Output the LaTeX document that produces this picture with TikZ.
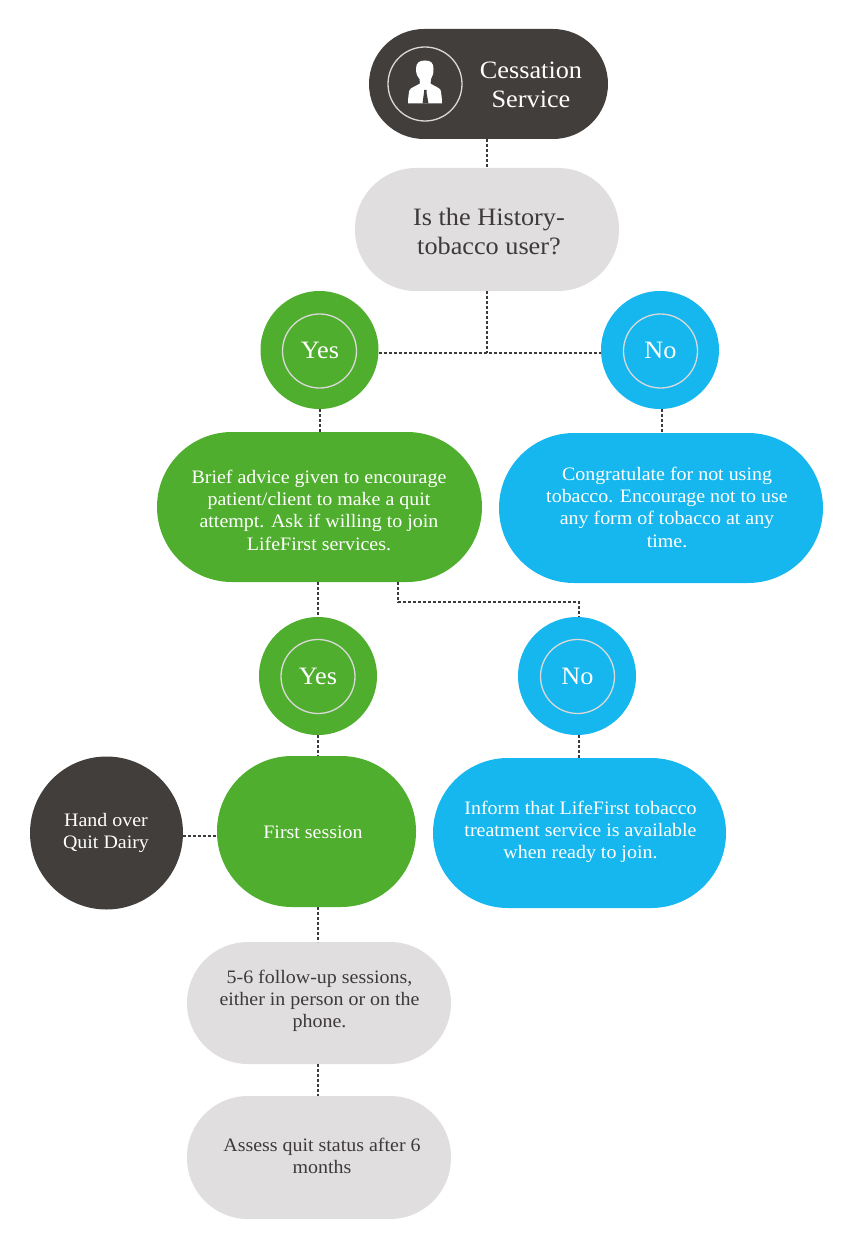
\documentclass[tikz,border=0pt]{standalone}
\usepackage{fontspec}
\setmainfont[FakeStretch=1.05]{Liberation Serif}
\definecolor{darkb}{HTML}{423E3B}
\definecolor{lgray}{HTML}{E0DEDF}
\definecolor{grn}{HTML}{50AE2E}
\definecolor{blu}{HTML}{16B7EE}
\definecolor{txt}{HTML}{3E3A3A}
\tikzset{
 x=1pt,y=-1pt,
 pill/.style={draw=none,rounded corners=#1,inner sep=0pt,outer sep=0pt},
 pillg/.style={pill=61pt,fill=lgray},
 disc/.style={circle,draw=none,inner sep=0pt,outer sep=0pt,minimum size=118pt},
 ring/.style={circle,draw=white!85!black,line width=1.3pt,inner sep=0pt,minimum size=74pt},
 conn/.style={draw=txt,line width=1.6pt,dash pattern=on 3pt off 2pt},
 labbig/.style={align=center,inner sep=0pt,font=\fontsize{25}{29}\selectfont},
 labsmall/.style={align=center,inner sep=0pt,font=\fontsize{19}{22.3}\selectfont},
}
\begin{document}
\begin{tikzpicture}
\useasboundingbox (0,0) rectangle (857,1241);
% shapes
\node[pill=55pt,fill=darkb,minimum width=239pt,minimum height=110pt] (top) at (488.5,84) {};
\node[pillg,minimum width=264pt,minimum height=123pt] (hist) at (487,229.5) {};
\node[disc,fill=grn] (yesa) at (319.5,350) {};
\node[disc,fill=blu] (noa) at (660,350) {};
\node[pill=75pt,fill=grn,minimum width=325pt,minimum height=150pt] (adv) at (319.5,507) {};
\node[pill=75pt,fill=blu,minimum width=324pt,minimum height=150pt] (cong) at (661,508) {};
\node[disc,fill=grn] (yesb) at (318,676) {};
\node[disc,fill=blu] (nob) at (577,676) {};
\node[pill=75pt,fill=grn,minimum width=199pt,minimum height=151pt] (first) at (316.5,831.5) {};
\node[pill=75pt,fill=blu,minimum width=293pt,minimum height=150pt] (inf) at (579.5,833) {};
\node[circle,fill=darkb,draw=none,inner sep=0pt,outer sep=0pt,minimum size=153pt] (hand) at (106.5,833) {};
\node[pillg,minimum width=264pt,minimum height=122pt] (fol) at (319,1003) {};
\node[pillg,minimum width=264pt,minimum height=123pt] (ass) at (319,1157.5) {};
% rings
\node[ring] (ringtop) at (425,84) {};
\node[ring] (ringya) at (319.5,351) {};
\node[ring] (ringna) at (660.5,351) {};
\node[ring] (ringyb) at (318,676.5) {};
\node[ring] (ringnb) at (577.5,676.5) {};
% icon
\fill[white] (425,60.5) .. controls (419,60.5) and (416,63) .. (416,69) .. controls (416,73) and (417,76) .. (419.5,79) -- (420,83.5) .. controls (416,86) and (411,87.5) .. (409.5,90) .. controls (408.5,94) and (408,99) .. (408,103.5) -- (442,103.5) .. controls (442,99) and (441.5,94) .. (440.5,90) .. controls (439,87.5) and (434,86) .. (430.5,83.5) -- (431,79) .. controls (433,76) and (433.5,73) .. (433.5,69) .. controls (433.5,63) and (431,60.5) .. (425,60.5) -- cycle;
\fill[darkb] (424,90) -- (426.5,90) -- (426.5,92.5) -- (428.5,103.5) -- (422.5,103.5) -- (424,92.5) -- cycle;
% connectors
\coordinate (ja) at (487,353);
\coordinate (jb) at (398,602);
\coordinate (jc) at (579,602);
\coordinate (jd) at (398,582);
\coordinate (je) at (217,836);
\coordinate (jf) at (662,433);
\coordinate (jg) at (320,432);
\draw[conn] (hist.north |- top.south) -- (hist.north);
\draw[conn] (hist.south) -- (ja);
\draw[conn] (yesa.east |- ja) -- (noa.west |- ja);
\draw[conn] (jg |- yesa.south) -- (jg);
\draw[conn] (jf |- noa.south) -- (jf);
\draw[conn] (yesb.north |- adv.south) -- (yesb.north);
\draw[conn] (jd) -- (jb) -- (jc) -- (jc |- nob.north);
\draw[conn] (yesb.south) -- (yesb.south |- first.north);
\draw[conn] (jc |- nob.south) -- (jc |- inf.north);
\draw[conn] (hand.east |- je) -- (je);
\draw[conn] (yesb.south |- first.south) -- (yesb.south |- fol.north);
\draw[conn] (yesb.south |- fol.south) -- (yesb.south |- ass.north);
% text
\node[labbig,text=white] (tcess) at (531,85) {Cessation\\Service};
\node[labbig,text=txt] (this) at (489,232) {Is the History-\\tobacco user?};
\node[labbig,text=white] (tya) at (320,350) {Yes};
\node[labbig,text=white] (tna) at (660.5,350) {No};
\node[labbig,text=white] (tyb) at (318,676) {Yes};
\node[labbig,text=white] (tnb) at (577.5,676) {No};
\node[labsmall,text=white] (tadv) at (319,510) {Brief advice given to encourage\\patient/client to make a quit\\attempt. Ask if willing to join\\LifeFirst services.};
\node[labsmall,text=white] (tcong) at (667,507) {Congratulate for not using\\tobacco. Encourage not to use\\any form of tobacco at any\\time.};
\node[labsmall,text=white] (tinf) at (580.5,832) {Inform that LifeFirst tobacco\\treatment service is available\\when ready to join.};
\node[labsmall,text=white] (tfirst) at (313,832) {First session};
\node[labsmall,text=white] (thand) at (106,833) {Hand over\\Quit Dairy};
\node[labsmall,text=txt] (tfol) at (319.5,1001) {5-6 follow-up sessions,\\either in person or on the\\phone.};
\node[labsmall,text=txt] (tass) at (322,1156) {Assess quit status after 6\\months};
\end{tikzpicture}
\end{document}
